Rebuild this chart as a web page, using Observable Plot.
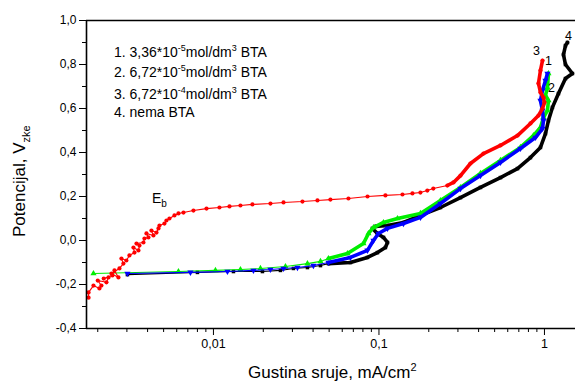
<!DOCTYPE html>
<html>
<head>
<meta charset="utf-8">
<script src="https://cdn.jsdelivr.net/npm/d3@7"></script>
<script src="https://cdn.jsdelivr.net/npm/@observablehq/plot@0.6"></script>
<style>
  html, body { margin: 0; padding: 0; background: #fff; }
  svg { display: block; }
</style>
</head>
<body>
<div id="chart"></div>
<script>
// ---- Data (current density mA/cm², potential V) ----
// Curve 3: 6,72*10^-4 mol/dm3 BTA (red)
const curve3Red = [
  [0.00176,-0.26],[0.00176,-0.236],[0.001884,-0.205],[0.002047,-0.218],[0.002104,-0.205],
  [0.0020,-0.182],[0.002257,-0.19],[0.002323,-0.168],[0.002173,-0.173],[0.002452,-0.159],
  [0.002523,-0.136],[0.002667,-0.168],[0.00242,-0.15],[0.002704,-0.127],[0.002858,-0.105],
  [0.00278,-0.082],[0.002978,-0.091],[0.003107,-0.068],[0.003333,-0.055],[0.003286,-0.032],
  [0.003523,-0.045],[0.003573,-0.023],[0.003427,-0.014],[0.003776,-0.009],[0.003829,0.009],
  [0.004047,0.014],[0.003938,0.032],[0.00434,0.023],[0.00422,0.045],[0.004527,0.036],
  [0.004655,0.055],[0.00472,0.068],[0.005058,0.077],[0.0052,0.091],[0.005423,0.1],
  [0.005813,0.114],[0.006145,0.123],[0.00659,0.127],[0.00757,0.136],[0.00908,0.145],
  [0.01087,0.15],[0.0125,0.155],[0.01456,0.159],[0.0172,0.164],[0.0221,0.168],[0.0265,0.173],
  [0.0345,0.177],[0.0425,0.182],[0.0509,0.186],[0.0654,0.191],[0.0853,0.2],[0.1094,0.205],
  [0.1387,0.209],[0.1593,0.214],[0.178,0.218],[0.196,0.227],[0.213,0.236],[0.259,0.25],
  [0.282,0.264],[0.311,0.295],[0.357,0.35],[0.428,0.395],[0.542,0.432],[0.687,0.477],
  [0.823,0.532],[0.92,0.568],[0.973,0.6],[1.0,0.627],[0.986,0.65],[0.946,0.673],
  [0.92,0.714],[0.946,0.773],[0.973,0.818]
];
// Curve 2: 6,72*10^-5 mol/dm3 BTA (green)
const curve2Green = [
  [0.001884,-0.15],[0.006145,-0.141],[0.01028,-0.136],[0.01456,-0.132],[0.01923,-0.127],
  [0.02723,-0.118],[0.03698,-0.105],[0.04432,-0.095],[0.04953,-0.082],[0.06451,-0.059],
  [0.08054,-0.014],[0.08641,0.032],[0.09264,0.059],[0.1065,0.082],[0.1294,0.1],
  [0.1782,0.123],[0.2353,0.182],[0.3108,0.241],[0.4105,0.305],[0.5423,0.364],
  [0.7161,0.423],[0.858,0.477],[0.9458,0.514],[0.9865,0.559],[1.0426,0.591],
  [1.057,0.636],[1.0141,0.659],[1.0426,0.695],[1.057,0.759]
];
// Curve 1: 3,36*10^-5 mol/dm3 BTA (blue)
const curve1Blue = [
  [0.003022,-0.15],[0.007263,-0.145],[0.01215,-0.141],[0.01745,-0.136],[0.02208,-0.132],
  [0.02648,-0.127],[0.03218,-0.123],[0.04018,-0.114],[0.04953,-0.1],[0.06724,-0.077],
  [0.08521,-0.045],[0.09264,0.0],[0.0993,0.032],[0.1126,0.055],[0.1406,0.077],
  [0.1782,0.105],[0.2353,0.168],[0.3108,0.236],[0.4105,0.295],[0.5423,0.355],
  [0.7161,0.418],[0.8822,0.468],[0.9727,0.509],[0.9865,0.545],[0.9727,0.591],
  [0.9458,0.636],[0.9727,0.682],[1.0141,0.727],[1.0426,0.759]
];
// Curve 4: nema BTA (black)
const curve4Black = [
  [0.003022,-0.155],[0.008003,-0.145],[0.01321,-0.141],[0.01977,-0.141],[0.02539,-0.136],
  [0.03043,-0.127],[0.03698,-0.123],[0.04432,-0.114],[0.04953,-0.105],[0.06724,-0.1],
  [0.08521,-0.077],[0.0979,-0.055],[0.1094,-0.032],[0.1126,-0.009],[0.1065,0.014],
  [0.0979,0.032],[0.09135,0.055],[0.09524,0.064],[0.1126,0.068],[0.1406,0.082],
  [0.1782,0.114],[0.2353,0.15],[0.3108,0.195],[0.4105,0.241],[0.5423,0.286],
  [0.6871,0.327],[0.8227,0.377],[0.9458,0.423],[1.0141,0.486],[1.057,0.545],
  [1.1174,0.605],[1.2153,0.668],[1.3397,0.736],[1.4757,0.759],[1.3397,0.8],
  [1.3027,0.845],[1.3397,0.886],[1.3772,0.9]
];

const xMajorTicks = [0.01, 0.1, 1];
const xMinorTicks = [0.002,0.003,0.004,0.005,0.006,0.007,0.008,0.009,
                     0.02,0.03,0.04,0.05,0.06,0.07,0.08,0.09,
                     0.2,0.3,0.4,0.5,0.6,0.7,0.8,0.9];
const yMajorTicks = [-0.4,-0.2,0.0,0.2,0.4,0.6,0.8,1.0];
const yMinorTicks = [-0.3,-0.1,0.1,0.3,0.5,0.7,0.9];

const legendLines = [
  ["1. 3,36*10", "-5", "mol/dm", "3", " BTA"],
  ["2. 6,72*10", "-5", "mol/dm", "3", " BTA"],
  ["3. 6,72*10", "-4", "mol/dm", "3", " BTA"],
  ["4. nema BTA"]
];
const xTitle = "Gustina sruje, mA/cm";
const yTitle = "Potencijal, V";

// ---- Build ----
const FONT = "Liberation Sans, Arial, Helvetica, sans-serif";
const toRows = (arr, name, dense) => arr.map((d, i) => ({x: d[0], y: d[1], s: name, i, dense: dense(d, i)}));
const red = toRows(curve3Red, "red", (d, i) => i >= 57);
const green = toRows(curve2Green, "green", d => d[0] >= 0.045);
const blue = toRows(curve1Blue, "blue", d => d[0] >= 0.045);
const black = toRows(curve4Black, "black", d => d[0] >= 0.045);

const xDomain = [0.00171, 1.54];
const comma = d => String(d).replace(".", ",");
const yFmt = d => d.toFixed(1).replace(".", ",");

function seriesMarks(rows, color, symbol, rotate, r) {
  return [
    Plot.line(rows, {x: "x", y: "y", stroke: color, strokeWidth: 1.1}),
    Plot.line(rows.filter(d => d.dense), {x: "x", y: "y", stroke: color, strokeWidth: 3.6}),
    Plot.dot(rows, {x: "x", y: "y", fill: color, stroke: "none", symbol, r, rotate})
  ];
}

const svg = Plot.plot({
  width: 575,
  height: 383,
  marginLeft: 86,
  marginTop: 20,
  marginBottom: 55,
  marginRight: 0,
  style: {fontFamily: FONT, fontSize: "12px", background: "#fff", color: "#000"},
  x: {type: "log", domain: xDomain},
  y: {domain: [-0.4, 1.0]},
  marks: [
    Plot.axisX({ticks: xMajorTicks, tickSize: 7, tickPadding: 4, tickFormat: comma, label: null, fontSize: 12.5}),
    Plot.axisX({ticks: xMinorTicks, tickSize: 4, tickFormat: () => "", label: null}),
    Plot.axisY({ticks: yMajorTicks, tickSize: 7, tickPadding: 3, tickFormat: yFmt, label: null, fontSize: 12}),
    Plot.axisY({ticks: yMinorTicks, tickSize: 4, tickFormat: () => "", label: null}),
    ...seriesMarks(black, "#000000", "square", 0, 2),
    ...seriesMarks(green, "#00ee00", "triangle", 0, 2.3),
    ...seriesMarks(blue, "#0000ff", "triangle", 180, 2.3),
    ...seriesMarks(red, "#ff0000", "circle", 0, 2.1),
    Plot.ruleX([xDomain[0]], {stroke: "#000", strokeWidth: 1.6}),
    Plot.ruleY([-0.4, 1.0], {stroke: "#000", strokeWidth: 1.6})
  ]
});
document.getElementById("chart").appendChild(svg);

// ---- Text annotations ----
const s = d3.select(svg);
function addText(x, y, parts, size, opts = {}) {
  const t = s.append("text").attr("x", x).attr("y", y)
    .attr("text-anchor", "start")
    .attr("font-family", FONT).attr("font-size", size).attr("fill", "#000");
  if (opts.transform) t.attr("transform", opts.transform).attr("x", 0).attr("y", 0);
  parts.forEach(p => {
    const ts = t.append("tspan").text(p.t);
    if (p.dy) ts.attr("dy", p.dy);
    if (p.size) ts.attr("font-size", p.size);
  });
  return t;
}

const legendY = [57, 77, 99, 117];
legendLines.forEach((ln, k) => {
  if (ln.length === 1) {
    addText(114, legendY[k], [{t: ln[0]}], 14);
  } else {
    addText(114, legendY[k], [
      {t: ln[0]},
      {t: ln[1], dy: -6, size: 9},
      {t: ln[2], dy: 6},
      {t: ln[3], dy: -6, size: 9},
      {t: ln[4], dy: 6}
    ], 14);
  }
});

// curve labels
addText(533, 55, [{t: "3"}], 12.5);
addText(545, 65, [{t: "1"}], 12.5);
addText(548, 92, [{t: "2"}], 12.5);
addText(565, 40, [{t: "4"}], 12.5);

// E_b
addText(152, 203, [{t: "E"}, {t: "b", dy: 4, size: 10}], 14);

// axis titles
addText(248, 378, [{t: xTitle}, {t: "2", dy: -7, size: 11}], 17);
addText(0, 0, [{t: yTitle}, {t: "zke", dy: 5, size: 11}], 17, {transform: "translate(25,237) rotate(-90)"});
</script>
</body>
</html>
